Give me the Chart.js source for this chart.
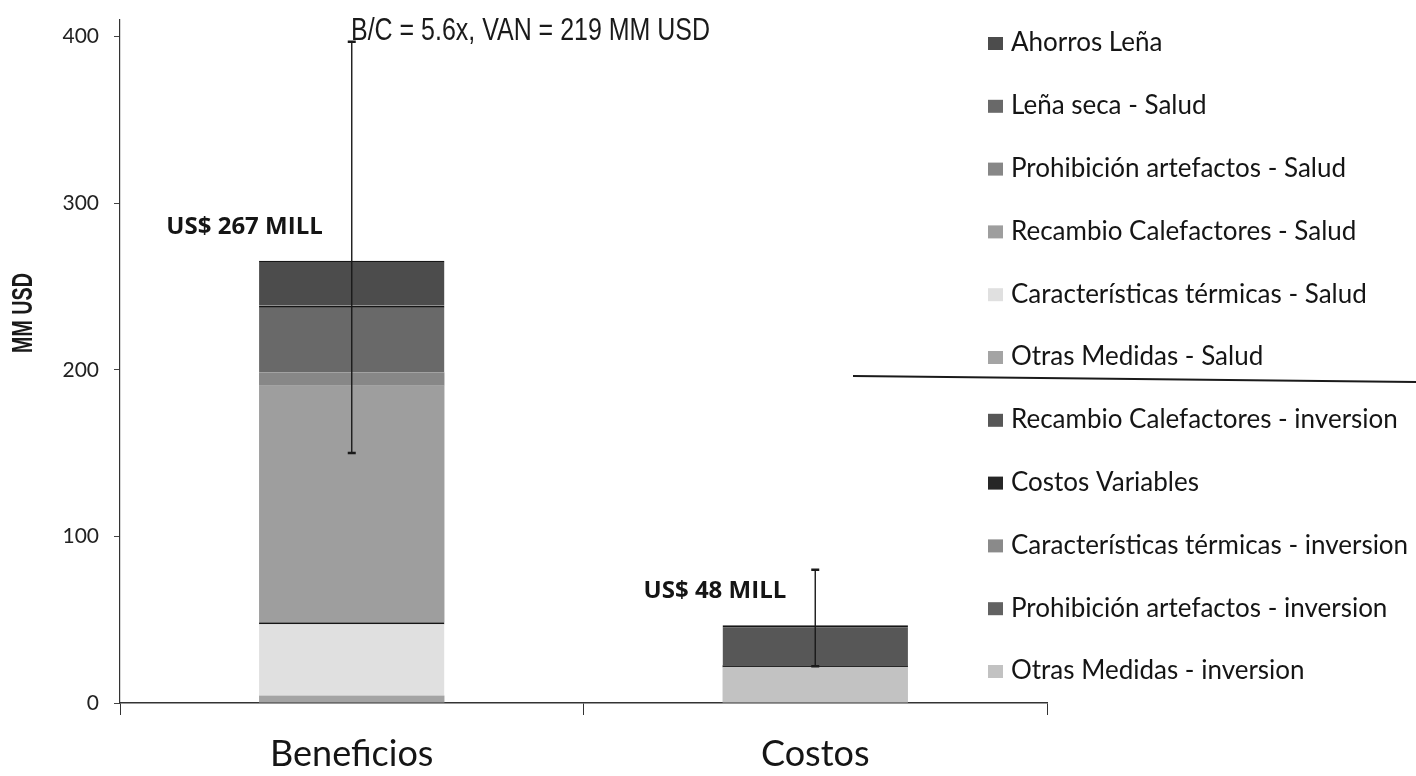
<!DOCTYPE html>
<html>
<head>
<meta charset="utf-8">
<script src="https://cdn.jsdelivr.net/npm/chart.js@4.4.1/dist/chart.umd.min.js"></script>
<style>
  html, body { margin: 0; padding: 0; background: #fff; }
  #wrap { width: 1416px; height: 776px; }
</style>
</head>
<body>
<div id="wrap"><canvas id="chart1" width="1416" height="776"></canvas></div>
<script>
// datos (MM USD)
const categorias = ['Beneficios', 'Costos'];
const otrasInversion = [0, 21.5];
const prohibicionInversion = [0, 0];
const caracteristicasInversion = [0, 0];
const costosVariables = [0, 1.2];
const recambioInversion = [0, 24];
const otrasSalud = [4.5, 0];
const caracteristicasSalud = [44, 0];
const recambioSalud = [142, 0];
const prohibicionSalud = [8, 0];
const lenaSecaSalud = [40, 0];
const ahorrosLena = [27, 0];
const errorBajo = [150, 22];
const errorAlto = [397, 80];
const etiquetasTotal = ['US$ 267 MILL', 'US$ 48 MILL'];
const ticksY = [0, 100, 200, 300, 400];
const titulo = 'B/C = 5.6x, VAN = 219 MM USD';
const tituloEje = 'MM USD';

function serie(label, data, color, borde) {
  return {
    label: label,
    data: data,
    backgroundColor: color,
    borderColor: '#151515',
    borderWidth: borde ? { top: 2, right: 0, bottom: 0, left: 0 } : 0,
    borderSkipped: 'bottom'
  };
}

// orden de apilado: de abajo hacia arriba
const datasets = [
  serie('Otras Medidas - inversion', otrasInversion, '#c2c2c2'),
  serie('Prohibición artefactos - inversion', prohibicionInversion, '#626262'),
  serie('Características térmicas - inversion', caracteristicasInversion, '#8a8a8a'),
  serie('Costos Variables', costosVariables, '#262626'),
  serie('Recambio Calefactores - inversion', recambioInversion, '#575757', true),
  serie('Otras Medidas - Salud', otrasSalud, '#a4a4a4'),
  serie('Características térmicas - Salud', caracteristicasSalud, '#e0e0e0', true),
  serie('Recambio Calefactores - Salud', recambioSalud, '#9e9e9e'),
  serie('Prohibición artefactos - Salud', prohibicionSalud, '#878787'),
  serie('Leña seca - Salud', lenaSecaSalud, '#696969', true),
  serie('Ahorros Leña', ahorrosLena, '#4c4c4c', true)
];

function textoAngosto(ctx, txt, x, y, ancho, font) {
  ctx.font = font;
  const m = ctx.measureText(txt).width;
  ctx.save();
  ctx.translate(x, y);
  ctx.scale(ancho / m, 1);
  ctx.textAlign = 'left';
  ctx.textBaseline = 'middle';
  ctx.fillText(txt, 0, 0);
  ctx.restore();
}

const extras = {
  id: 'extras',
  afterDatasetsDraw(chart) {
    const ctx = chart.ctx;
    const xs = chart.scales.x;
    const ys = chart.scales.y;
    ctx.save();
    // barras de error
    ctx.strokeStyle = '#1a1a1a';
    categorias.forEach((c, i) => {
      const x = xs.getPixelForValue(i);
      const yA = ys.getPixelForValue(errorAlto[i]);
      const yB = ys.getPixelForValue(errorBajo[i]);
      ctx.lineWidth = 1.4;
      ctx.beginPath();
      ctx.moveTo(x, yA);
      ctx.lineTo(x, yB);
      ctx.stroke();
      ctx.lineWidth = 2.5;
      ctx.beginPath();
      ctx.moveTo(x - 4, yA); ctx.lineTo(x + 4, yA);
      ctx.moveTo(x - 4, yB); ctx.lineTo(x + 4, yB);
      ctx.stroke();
    });
    // totales
    ctx.fillStyle = '#151515';
    ctx.font = 'bold 24px "Open Sans", sans-serif';
    ctx.textAlign = 'right';
    ctx.textBaseline = 'bottom';
    categorias.forEach((c, i) => {
      let total = 0;
      chart.data.datasets.forEach(d => { total += d.data[i]; });
      const x = xs.getPixelForValue(i);
      const y = ys.getPixelForValue(total);
      ctx.fillText(etiquetasTotal[i], x - 29, y - 22);
    });
    ctx.restore();
  },
  afterDraw(chart) {
    const ctx = chart.ctx;
    ctx.save();
    ctx.fillStyle = '#1a1a1a';
    // titulo
    textoAngosto(ctx, titulo, 351, 31, 359, '31px "Liberation Sans", Arial, sans-serif');
    // titulo eje y
    ctx.save();
    ctx.translate(24, 313);
    ctx.rotate(-Math.PI / 2);
    ctx.font = 'bold 30px "Liberation Sans", Arial, sans-serif';
    const m = ctx.measureText(tituloEje).width;
    ctx.scale(80 / m, 1);
    ctx.textAlign = 'center';
    ctx.textBaseline = 'middle';
    ctx.fillText(tituloEje, 0, 0);
    ctx.restore();

    // leyenda (orden inverso al apilado)
    const ds = chart.data.datasets;
    ctx.font = '26px Lato, sans-serif';
    ctx.textAlign = 'left';
    ctx.textBaseline = 'middle';
    for (let k = 0; k < ds.length; k++) {
      const d = ds[ds.length - 1 - k];
      const y = 43 + k * 62.8;
      ctx.fillStyle = d.backgroundColor;
      ctx.fillRect(988, y - 6, 15, 13);
      ctx.fillStyle = '#151515';
      ctx.fillText(d.label, 1011, y);
    }
    // linea separadora
    ctx.strokeStyle = '#1a1a1a';
    ctx.lineWidth = 2;
    ctx.beginPath();
    ctx.moveTo(853, 376);
    ctx.lineTo(1416, 382);
    ctx.stroke();
    ctx.restore();
  }
};

const config = {
  type: 'bar',
  data: { labels: categorias, datasets: datasets },
  options: {
    responsive: false,
    animation: false,
    layout: { padding: { top: 20, right: 369, left: 0, bottom: 0 } },
    categoryPercentage: 0.8,
    barPercentage: 0.5,
    plugins: { legend: { display: false }, tooltip: { enabled: false } },
    scales: {
      x: {
        stacked: true,
        afterFit: s => { s.height = 73; s.paddingLeft = 0; s.paddingRight = 0; },
        grid: { drawOnChartArea: false, tickLength: 12, color: '#333', offset: true },
        border: { color: '#333', width: 1.5 },
        ticks: { color: '#151515', font: { family: 'Lato', size: 36 }, padding: 18 }
      },
      y: {
        stacked: true,
        min: 0,
        max: 410,
        afterFit: s => { s.width = 120; s.paddingTop = 0; s.paddingBottom = 0; },
        afterBuildTicks: s => { s.ticks = ticksY.map(v => ({ value: v })); },
        grid: { drawOnChartArea: false, tickLength: 6, color: '#444' },
        border: { color: '#333', width: 1.2 },
        ticks: { color: '#222', font: { family: 'Lato', size: 21 }, padding: 15 }
      }
    }
  },
  plugins: [extras]
};

const myChart = new Chart(document.getElementById('chart1'), config);
</script>
</body>
</html>
